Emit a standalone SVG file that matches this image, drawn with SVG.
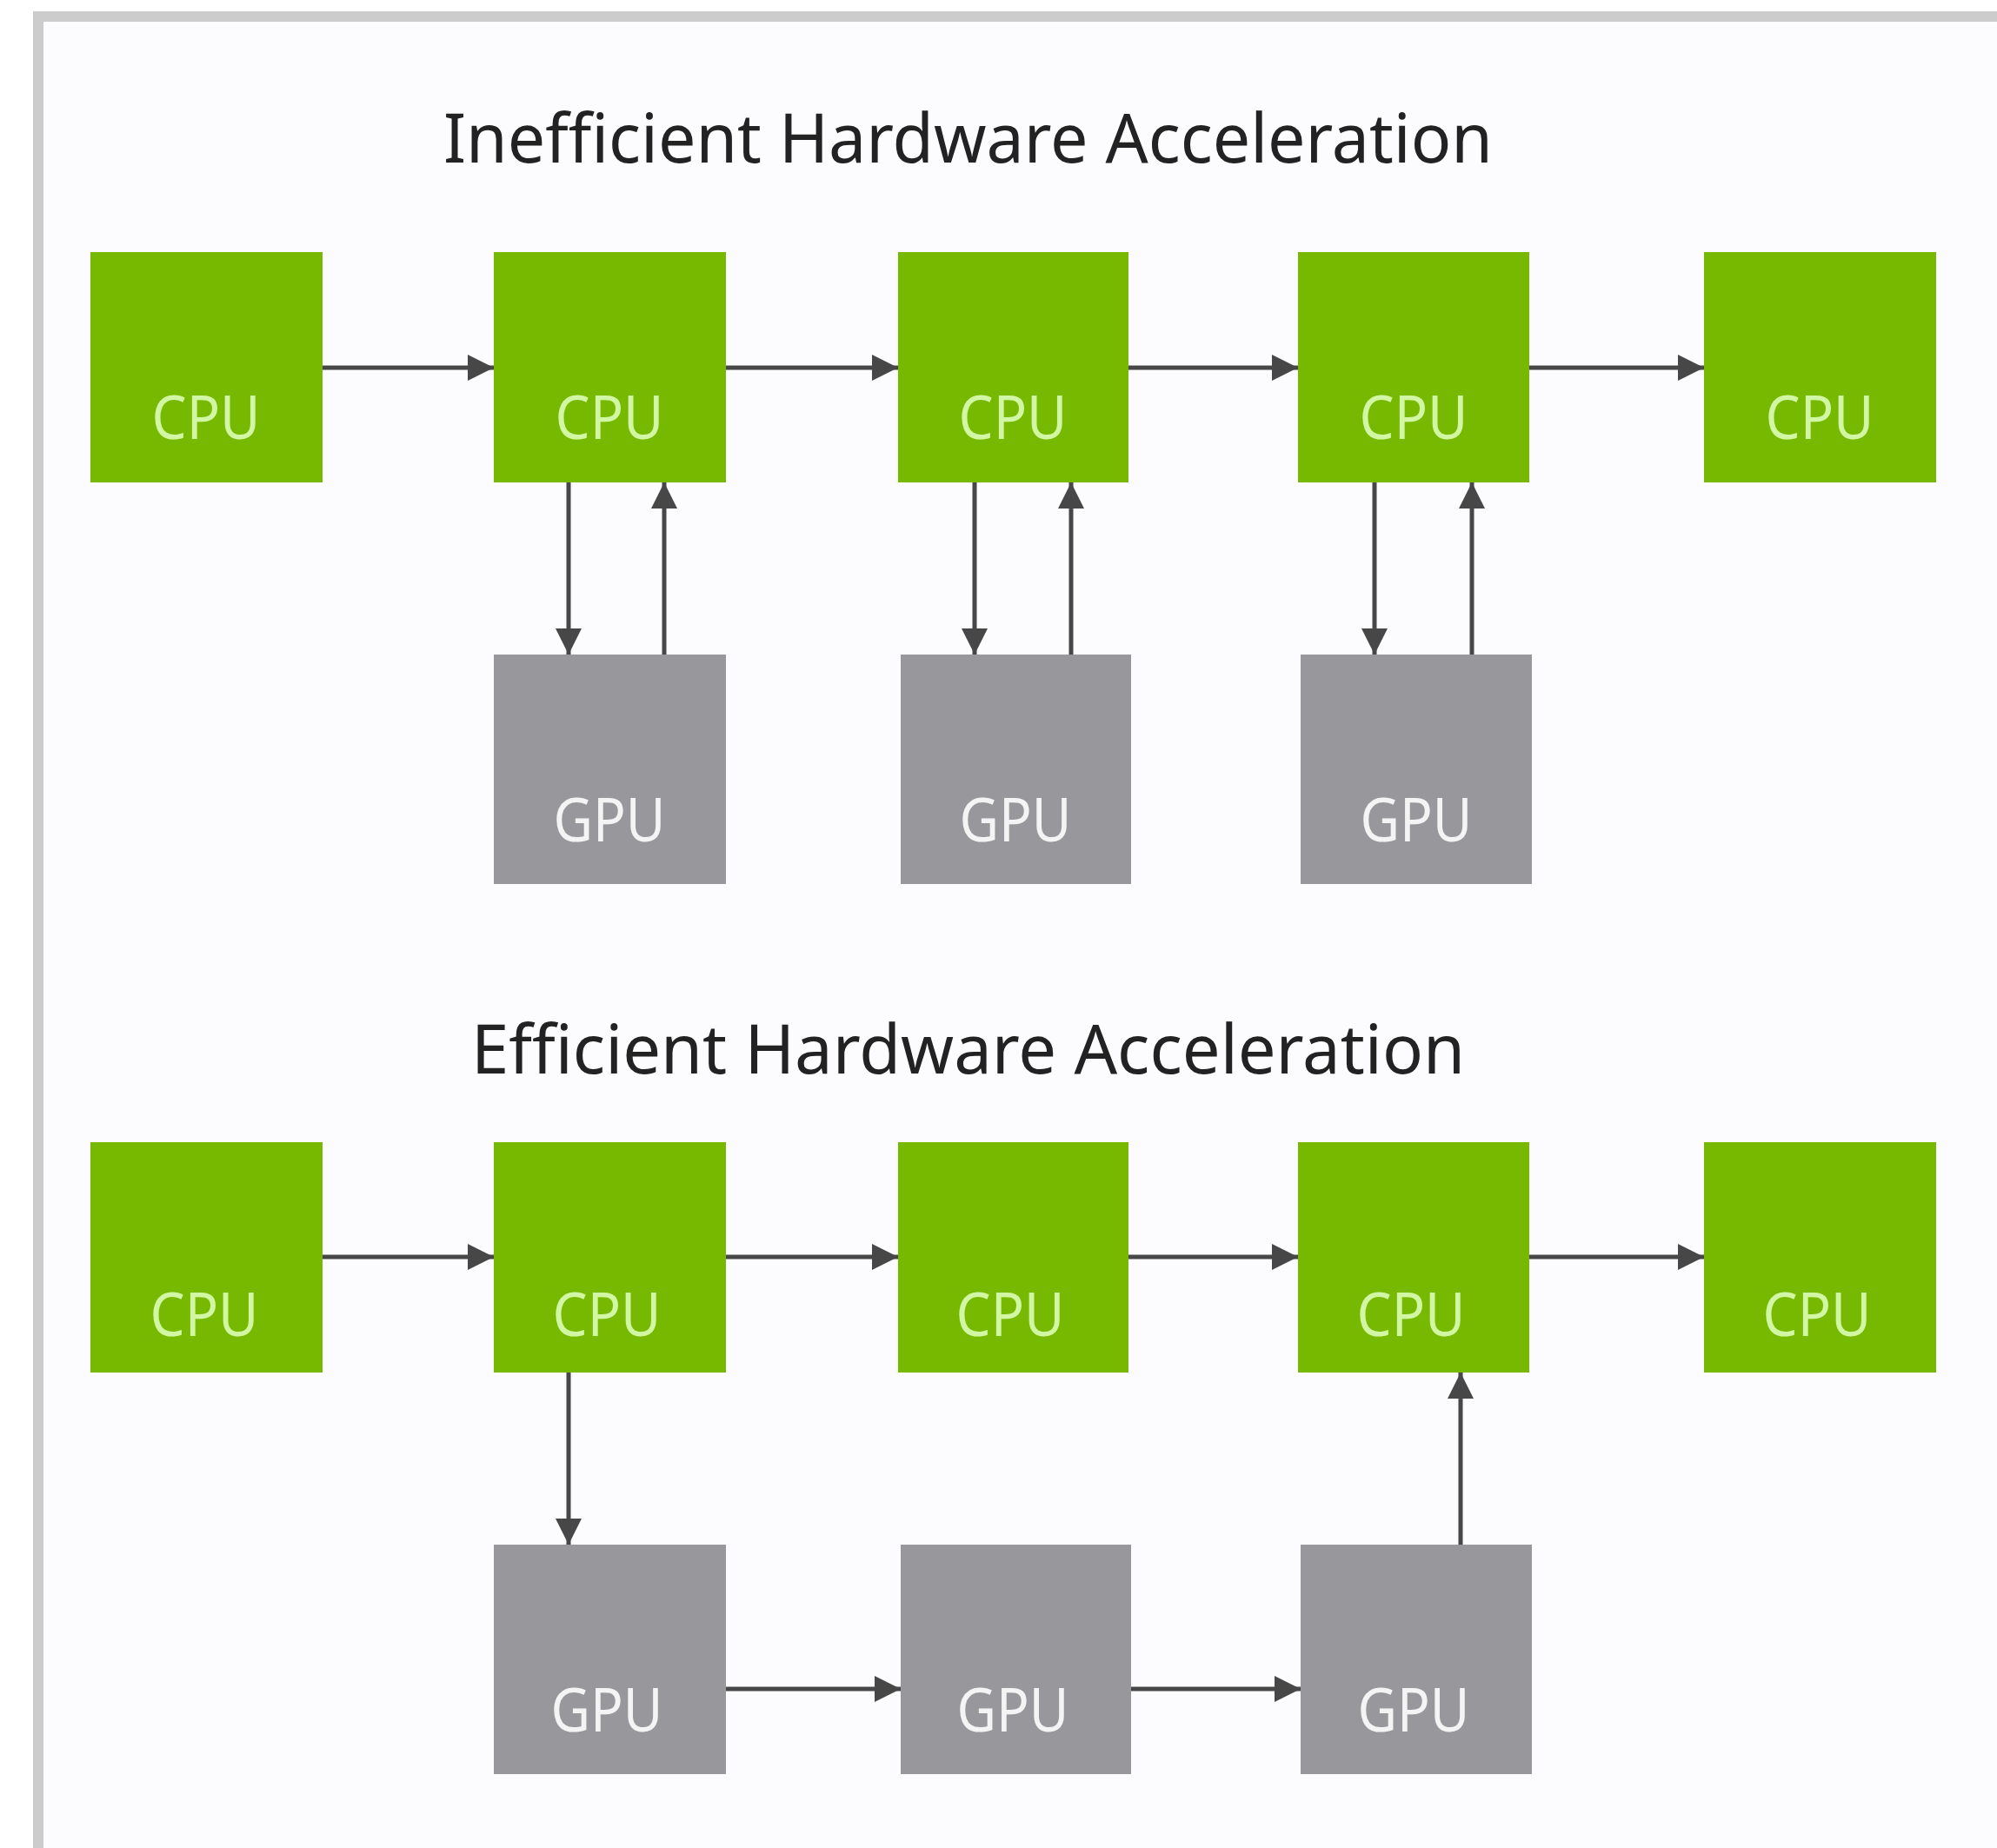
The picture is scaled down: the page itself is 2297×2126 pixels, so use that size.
<svg xmlns="http://www.w3.org/2000/svg" width="2297" height="2126" viewBox="0 0 2297 2126">
<style>
.cpu rect{fill:#76b900}
.gpu rect{fill:#98979b}
.lbl{font-family:"Noto Sans","Liberation Sans",sans-serif;font-size:70px;text-anchor:middle}
.cpu text{fill:#d2f7a4}
.gpu text{fill:#f4f4f4}
.title{font-family:"Noto Sans","Liberation Sans",sans-serif;font-size:78px;fill:#222}
.conn line{stroke:#474747;stroke-width:5;fill:none;marker-end:url(#ah)}
</style>
<defs>
<marker id="ah" viewBox="0 0 10 10" refX="10" refY="5" markerWidth="6" markerHeight="6.4" orient="auto" markerUnits="strokeWidth">
<path d="M0,0 L10,5 L0,10 z" fill="#474747"/>
</marker>
</defs>
<rect x="0" y="0" width="2297" height="2126" fill="#ffffff"/>
<rect x="38" y="13" width="2259" height="2113" fill="#cccccc"/>
<rect x="50" y="25" width="2247" height="2101" fill="#fcfbfd"/>
<text class="title" x="510" y="187" textLength="1207" lengthAdjust="spacingAndGlyphs">Inefficient Hardware Acceleration</text>
<text class="title" x="542" y="1235" textLength="1143" lengthAdjust="spacingAndGlyphs">Efficient Hardware Acceleration</text>
<g class="conn" id="connectors">
<line x1="371" y1="423" x2="568" y2="423"/>
<line x1="835" y1="423" x2="1033" y2="423"/>
<line x1="1298" y1="423" x2="1493" y2="423"/>
<line x1="1759" y1="423" x2="1960" y2="423"/>
<line x1="654" y1="555" x2="654" y2="753"/>
<line x1="764" y1="753" x2="764" y2="555"/>
<line x1="1121" y1="555" x2="1121" y2="753"/>
<line x1="1232" y1="753" x2="1232" y2="555"/>
<line x1="1581" y1="555" x2="1581" y2="753"/>
<line x1="1693" y1="753" x2="1693" y2="555"/>
<line x1="371" y1="1446" x2="568" y2="1446"/>
<line x1="835" y1="1446" x2="1033" y2="1446"/>
<line x1="1298" y1="1446" x2="1493" y2="1446"/>
<line x1="1759" y1="1446" x2="1960" y2="1446"/>
<line x1="654" y1="1579" x2="654" y2="1777"/>
<line x1="1680" y1="1777" x2="1680" y2="1579"/>
<line x1="835" y1="1943" x2="1036" y2="1943"/>
<line x1="1301" y1="1943" x2="1496" y2="1943"/>
</g>
<g id="cpu1a" class="cpu"><rect x="104" y="290" width="267" height="265"/><text class="lbl" x="237" y="505" textLength="125" lengthAdjust="spacingAndGlyphs">CPU</text></g>
<g id="cpu2a" class="cpu"><rect x="568" y="290" width="267" height="265"/><text class="lbl" x="701" y="505" textLength="125" lengthAdjust="spacingAndGlyphs">CPU</text></g>
<g id="cpu3a" class="cpu"><rect x="1033" y="290" width="265" height="265"/><text class="lbl" x="1165" y="505" textLength="125" lengthAdjust="spacingAndGlyphs">CPU</text></g>
<g id="cpu4a" class="cpu"><rect x="1493" y="290" width="266" height="265"/><text class="lbl" x="1626" y="505" textLength="125" lengthAdjust="spacingAndGlyphs">CPU</text></g>
<g id="cpu5a" class="cpu"><rect x="1960" y="290" width="267" height="265"/><text class="lbl" x="2093" y="505" textLength="125" lengthAdjust="spacingAndGlyphs">CPU</text></g>
<g id="gpu1a" class="gpu"><rect x="568" y="753" width="267" height="264"/><text class="lbl" x="701" y="968" textLength="129" lengthAdjust="spacingAndGlyphs">GPU</text></g>
<g id="gpu2a" class="gpu"><rect x="1036" y="753" width="265" height="264"/><text class="lbl" x="1168" y="968" textLength="129" lengthAdjust="spacingAndGlyphs">GPU</text></g>
<g id="gpu3a" class="gpu"><rect x="1496" y="753" width="266" height="264"/><text class="lbl" x="1629" y="968" textLength="129" lengthAdjust="spacingAndGlyphs">GPU</text></g>
<g id="cpu1b" class="cpu"><rect x="104" y="1314" width="267" height="265"/><text class="lbl" x="235" y="1537" textLength="125" lengthAdjust="spacingAndGlyphs">CPU</text></g>
<g id="cpu2b" class="cpu"><rect x="568" y="1314" width="267" height="265"/><text class="lbl" x="698" y="1537" textLength="125" lengthAdjust="spacingAndGlyphs">CPU</text></g>
<g id="cpu3b" class="cpu"><rect x="1033" y="1314" width="265" height="265"/><text class="lbl" x="1162" y="1537" textLength="125" lengthAdjust="spacingAndGlyphs">CPU</text></g>
<g id="cpu4b" class="cpu"><rect x="1493" y="1314" width="266" height="265"/><text class="lbl" x="1623" y="1537" textLength="125" lengthAdjust="spacingAndGlyphs">CPU</text></g>
<g id="cpu5b" class="cpu"><rect x="1960" y="1314" width="267" height="265"/><text class="lbl" x="2090" y="1537" textLength="125" lengthAdjust="spacingAndGlyphs">CPU</text></g>
<g id="gpu1b" class="gpu"><rect x="568" y="1777" width="267" height="264"/><text class="lbl" x="698" y="1992" textLength="129" lengthAdjust="spacingAndGlyphs">GPU</text></g>
<g id="gpu2b" class="gpu"><rect x="1036" y="1777" width="265" height="264"/><text class="lbl" x="1165" y="1992" textLength="129" lengthAdjust="spacingAndGlyphs">GPU</text></g>
<g id="gpu3b" class="gpu"><rect x="1496" y="1777" width="266" height="264"/><text class="lbl" x="1626" y="1992" textLength="129" lengthAdjust="spacingAndGlyphs">GPU</text></g>
</svg>
